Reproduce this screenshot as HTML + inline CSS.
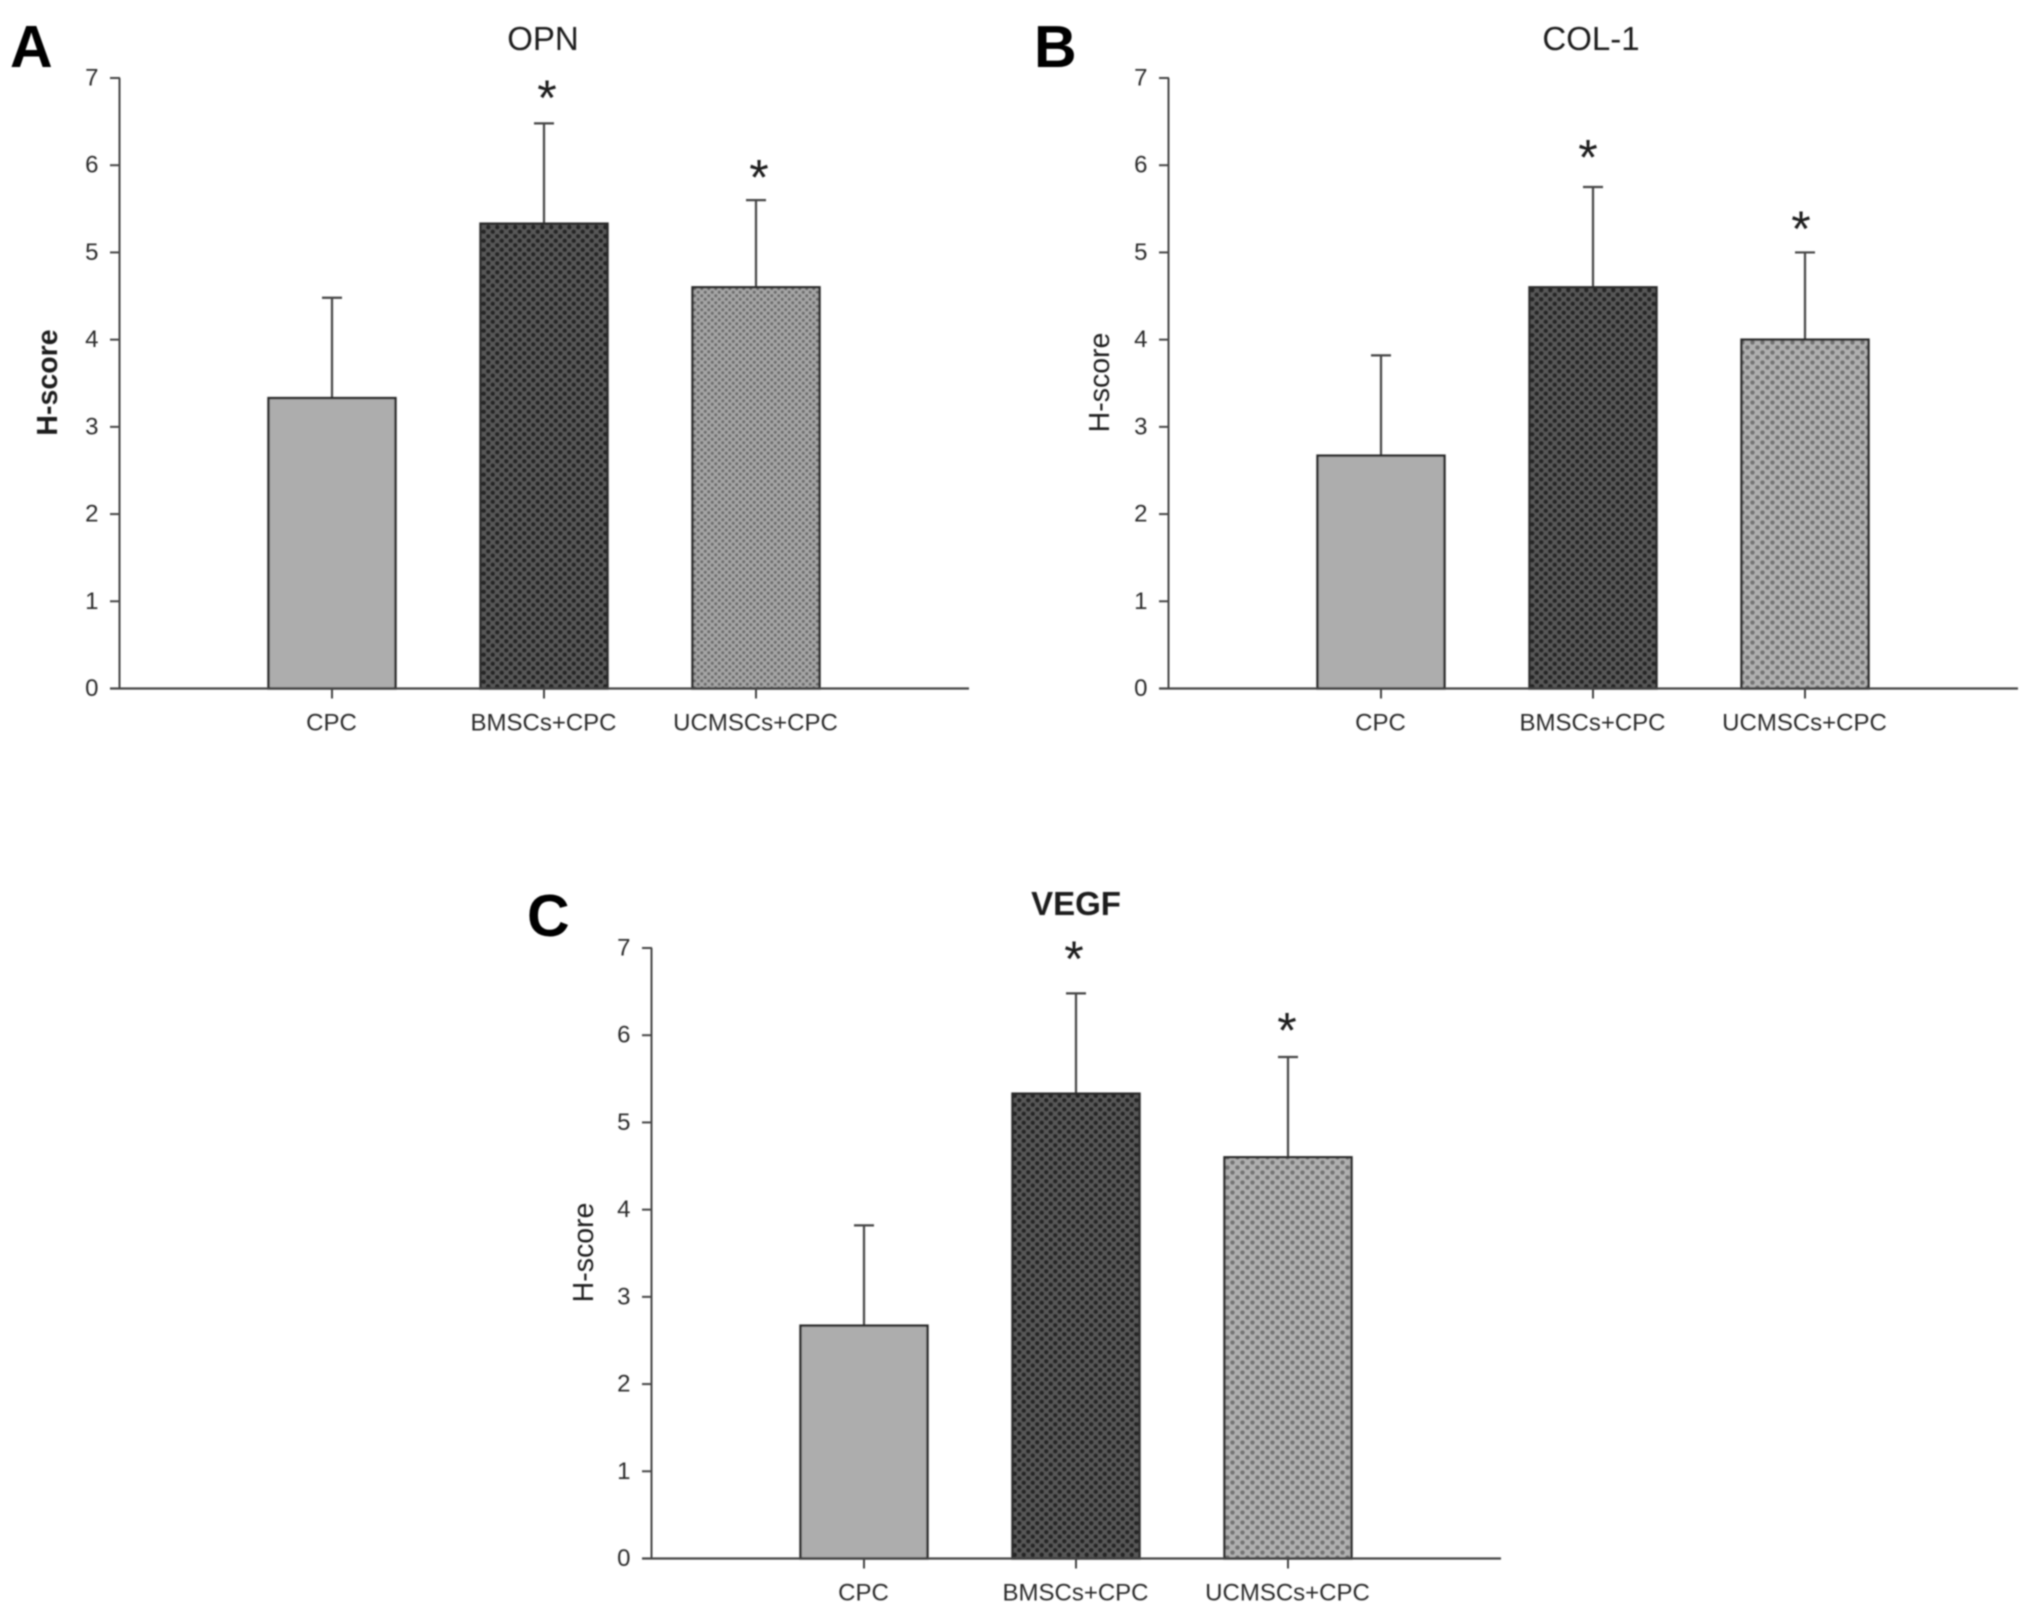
<!DOCTYPE html>
<html lang="en">
<head>
<meta charset="utf-8">
<title>H-score bar charts for OPN, COL-1 and VEGF</title>
<style>
html,body{margin:0;padding:0;background:#fff;}
svg{display:block;}
text{font-family:"Liberation Sans",Arial,sans-serif;}
</style>
</head>
<body>
<svg id="figure" xmlns="http://www.w3.org/2000/svg" width="2031" height="1617" viewBox="0 0 2031 1617">
  <defs>
    <filter id="soft" x="-2%" y="-2%" width="104%" height="104%"><feGaussianBlur stdDeviation="0.7"/></filter>
    <pattern id="dots-dark" patternUnits="userSpaceOnUse" width="9" height="9">
      <rect width="9" height="9" fill="#595959"/>
      <circle cx="2.25" cy="2.25" r="2.4" fill="#262626"/>
      <circle cx="6.75" cy="6.75" r="2.4" fill="#262626"/>
    </pattern>
    <pattern id="fine-grid" patternUnits="userSpaceOnUse" width="7" height="7">
      <rect width="7" height="7" fill="#a6a6a6"/>
      <circle cx="1.75" cy="1.75" r="1.6" fill="#6c6c6c"/>
      <circle cx="5.25" cy="5.25" r="1.6" fill="#6c6c6c"/>
    </pattern>
    <pattern id="dots-light" patternUnits="userSpaceOnUse" width="10" height="10">
      <rect width="10" height="10" fill="#b0b0b0"/>
      <circle cx="2.5" cy="2.5" r="2.3" fill="#737373"/>
      <circle cx="7.5" cy="7.5" r="2.3" fill="#737373"/>
    </pattern>
  </defs>
  <rect width="2031" height="1617" fill="#ffffff"/>
  <g id="plot" filter="url(#soft)"></g>
</svg>
<script>
const categories = ["CPC", "BMSCs+CPC", "UCMSCs+CPC"];
const yTickLabels = [0, 1, 2, 3, 4, 5, 6, 7];
const opnValues = [3.33, 5.33, 4.6];
const opnErrors = [1.15, 1.15, 1.0];
const opnSignificant = [false, true, true];
const col1Values = [2.67, 4.6, 4.0];
const col1Errors = [1.15, 1.15, 1.0];
const col1Significant = [false, true, true];
const vegfValues = [2.67, 5.33, 4.6];
const vegfErrors = [1.15, 1.15, 1.15];
const vegfSignificant = [false, true, true];

const NS = "http://www.w3.org/2000/svg";
const INK = "#444444";
const TEXT = "#2b2b2b";
const plot = document.getElementById("plot");

function make(parent, tag, attrs, content) {
  const el = document.createElementNS(NS, tag);
  for (const k in attrs) el.setAttribute(k, attrs[k]);
  if (content !== undefined) el.textContent = content;
  parent.appendChild(el);
  return el;
}

function drawPanel(p) {
  const g = make(plot, "g", {});
  
  

  const yScale = function (v) { return p.base - (v / 7) * 610.5; };
  const xScale = function (i) { return p.axisX + 212 * (i + 1); };
  const barWidth = 127;

  const letter = make(g, "text", {x: p.letterX, y: p.letterY, "font-size": 59, "font-weight": "bold", fill: "#000000"}, p.letter);
  
  

  const title = make(g, "text", {x: p.titleX, y: p.titleY, "font-size": 33, "font-weight": p.titleBold ? "bold" : "normal", "text-anchor": "middle", fill: "#1c1c1c"}, p.title);
  
  

  const yTitle = make(g, "text", {x: 0, y: 0, "font-size": 28.5, "font-weight": p.yTitleBold ? "bold" : "normal", "text-anchor": "middle", fill: "#1c1c1c", transform: "translate(" + (p.axisX + p.yTitleDx) + "," + (p.base - 306) + ") rotate(-90)"}, "H-score");
  
  

  p.values.forEach(function (v, i) {
    const cx = xScale(i);
    const top = yScale(v);
    const errTop = yScale(v + p.errors[i]);

    const errLine = make(g, "line", {x1: cx, x2: cx, y1: errTop, y2: top, stroke: INK, "stroke-width": 2.2});
    
    

    const cap = make(g, "line", {x1: cx - 10, x2: cx + 10, y1: errTop, y2: errTop, stroke: INK, "stroke-width": 2.2});
    
    

    const bar = make(g, "rect", {x: cx - barWidth / 2, y: top, width: barWidth, height: p.base - top, fill: p.fills[i], stroke: "#2a2a2a", "stroke-width": 2.4});
    
    

    const tick = make(g, "line", {x1: cx, x2: cx, y1: p.base, y2: p.base + 10, stroke: INK, "stroke-width": 2});
    
    

    const label = make(g, "text", {x: cx - 0.5, y: p.base + 42, "font-size": 24, "text-anchor": "middle", fill: TEXT}, categories[i]);
    
    

    if (p.significant[i]) {
      const star = make(g, "text", {x: cx + p.starDx[i], y: errTop - p.starGap[i] + 22.5, "font-size": 50, "text-anchor": "middle", fill: "#1c1c1c"}, "*");
      
      
    }
  });

  const yAxis = make(g, "line", {x1: p.axisX - 0.5, x2: p.axisX - 0.5, y1: yScale(7), y2: p.base, stroke: INK, "stroke-width": 2});
  
  

  const xAxis = make(g, "line", {x1: p.axisX - 10, x2: p.axisX + 849, y1: p.base, y2: p.base, stroke: INK, "stroke-width": 2.2});
  
  

  yTickLabels.forEach(function (t) {
    const y = yScale(t);
    const tick = make(g, "line", {x1: p.axisX - 10, x2: p.axisX, y1: y, y2: y, stroke: INK, "stroke-width": 2});
    
    

    const label = make(g, "text", {x: p.axisX - 21.5, y: y + 7.5, "font-size": 24, "text-anchor": "end", fill: TEXT}, String(t));
    
    
  });
}

drawPanel({
  key: "a", letter: "A", title: "OPN", titleBold: false, yTitleBold: true, yTitleDx: -63,
  axisX: 120, base: 688.5, letterX: 10, letterY: 67, titleX: 543, titleY: 50,
  values: opnValues, errors: opnErrors, significant: opnSignificant,
  fills: ["#adadad", "url(#dots-dark)", "url(#fine-grid)"],
  starDx: [0, 3, 3], starGap: [0, 31, 28]
});
drawPanel({
  key: "b", letter: "B", title: "COL-1", titleBold: false, yTitleBold: false, yTitleDx: -60,
  axisX: 1169, base: 688.5, letterX: 1034, letterY: 67, titleX: 1591, titleY: 50,
  values: col1Values, errors: col1Errors, significant: col1Significant,
  fills: ["#adadad", "url(#dots-dark)", "url(#dots-light)"],
  starDx: [0, -5, -4], starGap: [0, 35, 29]
});
drawPanel({
  key: "c", letter: "C", title: "VEGF", titleBold: true, yTitleBold: false, yTitleDx: -59,
  axisX: 652, base: 1558.5, letterX: 527, letterY: 936, titleX: 1076, titleY: 915,
  values: vegfValues, errors: vegfErrors, significant: vegfSignificant,
  fills: ["#adadad", "url(#dots-dark)", "url(#dots-light)"],
  starDx: [0, -2, -1], starGap: [0, 40, 32]
});
</script>
</body>
</html>
